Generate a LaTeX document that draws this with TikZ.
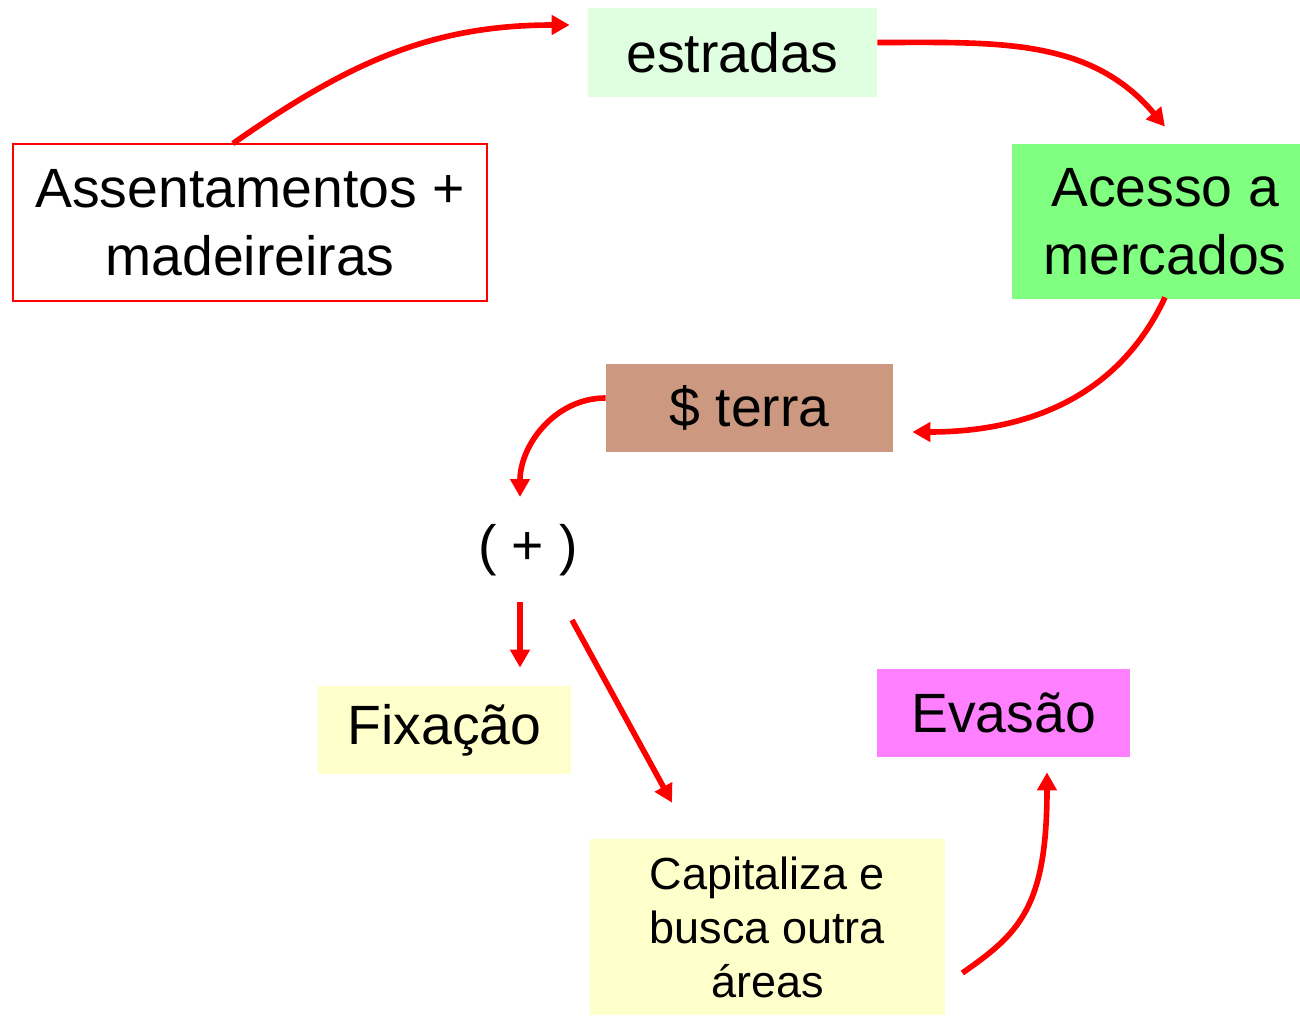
\documentclass[tikz,border=0pt]{standalone}
\usepackage{fontspec}
\setmainfont{Liberation Sans}
\usetikzlibrary{arrows.meta}
\definecolor{roadgreen}{RGB}{224,255,224}
\definecolor{marketgreen}{RGB}{128,255,128}
\definecolor{landbrown}{RGB}{204,153,128}
\definecolor{paleyellow}{RGB}{255,255,204}
\definecolor{evapink}{RGB}{255,128,255}

\begin{document}
\begin{tikzpicture}[
  box/.style={rectangle, inner sep=0pt, align=center, font=\fontsize{31.5}{38.6}\selectfont},
  link/.style={-{Triangle[length=0.36cm,width=0.38cm]}, draw=red, line width=3.2pt}
]
\useasboundingbox (0,0) rectangle (26,-20.32);

\node (estradas) [box, fill=roadgreen, minimum width=5.78cm, minimum height=1.78cm] at (14.65,-1.05) {estradas};
\node (assent) [box, draw=red, line width=0.6pt, minimum width=9.48cm, minimum height=3.14cm] at (5.0,-4.45) {Assentamentos +\\madeireiras};
\node (acesso) [box, fill=marketgreen, minimum width=6.12cm, minimum height=3.1cm] at (23.3,-4.43) {Acesso a\\mercados};
\node (terra) [box, fill=landbrown, minimum width=5.74cm, minimum height=1.76cm] at (14.99,-8.16) {\$ terra};
\node (plus) [box] at (10.56,-11.0) {( + )};
\node (fixacao) [box, fill=paleyellow, minimum width=5.06cm, minimum height=1.76cm] at (8.89,-14.6) {Fixação};
\node (evasao) [box, fill=evapink, minimum width=5.06cm, minimum height=1.76cm] at (20.07,-14.26) {Evasão};
\node (capital) [box, fill=paleyellow, minimum width=7.1cm, minimum height=3.52cm, font=\fontsize{25.6}{30.7}\selectfont] at (15.35,-18.54) {Capitaliza e\\busca outra\\áreas};

\draw[link] ([xshift=-0.34cm]assent.north) to[out=35,in=180] ([shift={(-0.36,0.55)}]estradas.west);
\draw[link] ([yshift=0.2cm]estradas.east) to[out=0,in=130] ([shift={(0,0.34)}]acesso.north);
\draw[link] ([yshift=0.04cm]acesso.south) to[out=-115,in=0] ([shift={(0.38,-0.48)}]terra.east);
\draw[link] ([yshift=0.2cm]terra.west) to[out=180,in=90] ([shift={(-0.16,1.06)}]plus.center);
\draw[link] ([shift={(-0.16,-1.04)}]plus.center) -- ([shift={(1.51,0.36)}]fixacao.north);
\draw[link] ([shift={(0.88,-1.4)}]plus.center) -- ([shift={(-1.91,0.72)}]capital.north);
\draw[link] ([shift={(0.34,-0.92)}]capital.east) to[out=35,in=-90,out looseness=0.8,in looseness=1.6] ([shift={(0.87,-0.3)}]evasao.south);
\end{tikzpicture}
\end{document}
